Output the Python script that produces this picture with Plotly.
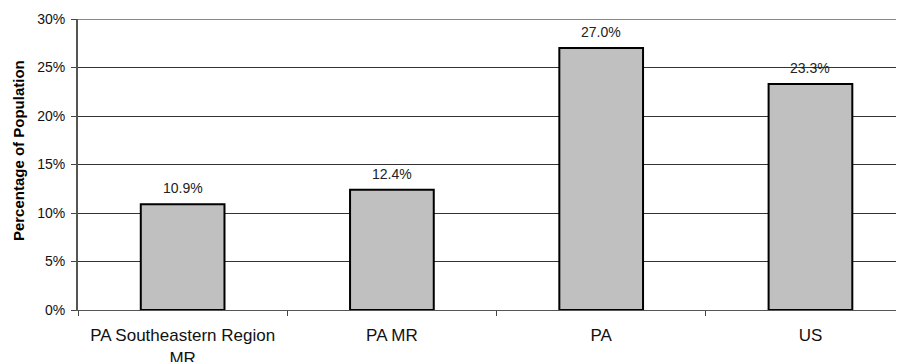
import plotly.graph_objects as go

categories = ["PA Southeastern Region<br>MR", "PA MR", "PA", "US"]
values = [10.9, 12.4, 27.0, 23.3]
labels = ["10.9%", "12.4%", "27.0%", "23.3%"]
y_ticks = [0, 5, 10, 15, 20, 25, 30]
y_ticklabels = ["0%", "5%", "10%", "15%", "20%", "25%", "30%"]

FONT = "Liberation Sans, Arial, sans-serif"

fig = go.Figure()
fig.add_trace(go.Bar(
    x=categories, y=values, width=0.4,
    marker=dict(color="#c0c0c0", line=dict(color="black", width=2)),
    hoverinfo="skip",
))
for c, v, t in zip(categories, values, labels):
    fig.add_annotation(x=c, y=v, text=t, showarrow=False, yshift=16,
                       font=dict(size=14, color="#222", family=FONT))

fig.add_annotation(text="<b>Percentage of Population</b>", xref="paper", yref="paper",
                   x=0, y=0.546, xanchor="center", yanchor="middle", xshift=-60,
                   textangle=-90, showarrow=False,
                   font=dict(size=15, color="black", family=FONT))

fig.add_shape(type="line", xref="paper", yref="y", x0=0, x1=1, y0=30, y1=30,
              line=dict(color="#888", width=2))

fig.update_layout(
    width=896, height=354,
    margin=dict(l=70, r=0, t=11, b=52),
    paper_bgcolor="white", plot_bgcolor="white",
    font=dict(family=FONT, size=14, color="black"),
    showlegend=False,
    bargap=0.6,
)
fig.update_xaxes(
    range=[-0.5, 3.447], type="category", automargin=False,
    showline=True, linecolor="#555", linewidth=1,
    ticks="outside", tickson="boundaries", ticklen=5, tickcolor="#444",
    showgrid=False, tickfont=dict(size=17, color="#111"),
    ticklabelstandoff=10,
)
fig.update_yaxes(
    range=[0, 30], tickvals=y_ticks, ticktext=y_ticklabels, automargin=False,
    showline=True, linecolor="#555", linewidth=2,
    ticks="outside", ticklen=5, tickcolor="#444",
    showgrid=True, gridcolor="#333", gridwidth=1,
    tickfont=dict(size=14, color="#111"),
    ticklabelstandoff=3,
    zeroline=False,
)
fig.write_html("out.html")
